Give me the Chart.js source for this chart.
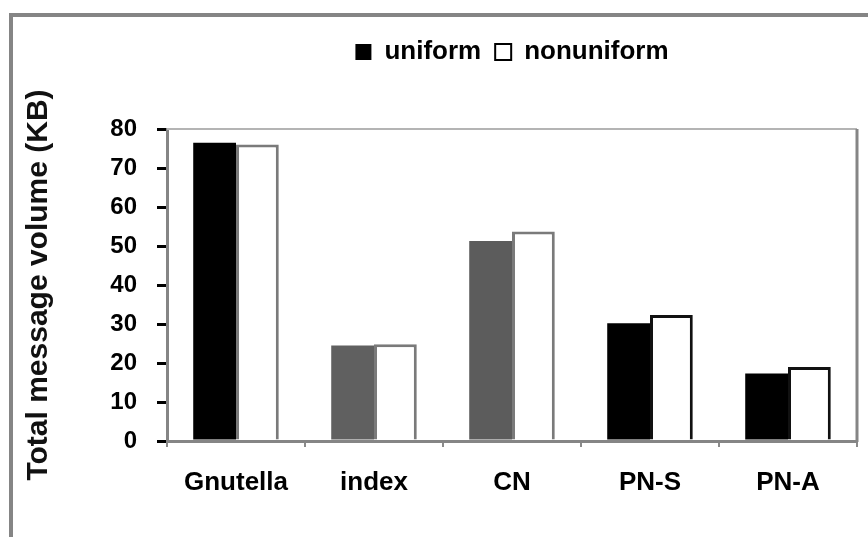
<!DOCTYPE html>
<html>
<head>
<meta charset="utf-8">
<script src="https://cdn.jsdelivr.net/npm/chart.js@4"></script>
<style>
  html, body { margin: 0; padding: 0; background: #fff; overflow: hidden; }
  #wrap { position: relative; width: 868px; height: 537px; }
</style>
</head>
<body>
<div id="wrap">
  <canvas id="c"></canvas>
</div>
<script>
// Total message volume per search scheme (KB)
const categories = ['Gnutella', 'index', 'CN', 'PN-S', 'PN-A'];
const uniform    = [76.5, 24.5, 51.3, 30.2, 17.3];
const nonuniform = [76.0, 24.8, 53.7, 32.3, 19.0];
const yMin = 0, yMax = 80, yStep = 10;

const FONT = "'Liberation Sans', Arial, sans-serif";
const LEGEND_TOP = 25;

// grey outer frame plus the thin top/right border of the plot area
const frames = {
  id: 'frames',
  afterLayout(chart) {
    // keep the legend near the top edge instead of hugging the plot
    const lg = chart.legend;
    if (lg) {
      const h = lg.height;
      lg.top = LEGEND_TOP;
      lg.bottom = LEGEND_TOP + h;
    }
  },
  afterDraw(chart) {
    const { ctx, width, height } = chart;
    ctx.save();
    ctx.strokeStyle = '#858585';
    ctx.lineWidth = 4;
    ctx.beginPath();
    ctx.moveTo(11, height + 5);
    ctx.lineTo(11, 15);
    ctx.lineTo(width + 5, 15);
    ctx.stroke();
    ctx.restore();
  },
  beforeDatasetsDraw(chart) {
    const { ctx, chartArea: a } = chart;
    ctx.save();
    ctx.strokeStyle = '#b4b4b4';
    ctx.lineWidth = 2;
    ctx.beginPath();
    ctx.moveTo(a.left, a.top);
    ctx.lineTo(a.right, a.top);
    ctx.stroke();
    ctx.strokeStyle = '#858585';
    ctx.lineWidth = 3;
    ctx.beginPath();
    ctx.moveTo(a.right, a.top);
    ctx.lineTo(a.right, a.bottom + 1);
    ctx.stroke();
    ctx.restore();
  }
};

new Chart(document.getElementById('c'), {
  type: 'bar',
  data: {
    labels: categories,
    datasets: [
      {
        label: 'uniform',
        data: uniform,
        backgroundColor: ['#000000', '#606060', '#5c5c5c', '#000000', '#000000'],
        borderWidth: 0,
        categoryPercentage: 0.62,
        barPercentage: 1.0
      },
      {
        label: 'nonuniform',
        data: nonuniform,
        backgroundColor: '#ffffff',
        borderColor: ['#7a7a7a', '#7a7a7a', '#7a7a7a', '#111111', '#111111'],
        borderWidth: 3,
        categoryPercentage: 0.62,
        barPercentage: 1.0
      }
    ]
  },
  options: {
    responsive: true,
    maintainAspectRatio: false,
    animation: false,
    layout: { padding: { left: 14, right: 11, top: LEGEND_TOP, bottom: 0 } },
    plugins: {
      tooltip: { enabled: false },
      legend: {
        position: 'top',
        fullSize: false,
        labels: {
          color: '#000',
          font: { family: FONT, size: 26, weight: 'bold' },
          boxWidth: 16,
          boxHeight: 16,
          padding: 14,
          generateLabels(chart) {
            return chart.data.datasets.map((ds, i) => ({
              text: ds.label,
              fillStyle: i === 0 ? '#000' : '#fff',
              strokeStyle: '#000',
              lineWidth: i === 0 ? 0 : 2,
              fontColor: '#000',
              hidden: false,
              datasetIndex: i
            }));
          }
        }
      }
    },
    scales: {
      x: {
        grid: { offset: true, drawOnChartArea: false, drawTicks: true, tickLength: 6, color: '#8a8a8a', lineWidth: 2 },
        border: { color: '#858585', width: 3 },
        ticks: { color: '#000', padding: 20, font: { family: FONT, size: 26, weight: 'bold' } },
        afterFit(scale) { scale.height = 96; }
      },
      y: {
        min: yMin,
        max: yMax,
        grid: { drawOnChartArea: false, drawTicks: true, tickLength: 10, color: '#000', lineWidth: 3 },
        border: { color: '#858585', width: 3 },
        ticks: { stepSize: yStep, color: '#000', padding: 20, font: { family: FONT, size: 24, weight: 'bold' } },
        title: {
          display: true,
          text: 'Total message volume (KB)',
          color: '#111',
          padding: { top: 7, bottom: 0 },
          font: { family: FONT, size: 30, weight: 'bold' }
        },
        afterFit(scale) { scale.width = 153; scale.paddingTop = 129; }
      }
    }
  },
  plugins: [frames]
});
</script>
</body>
</html>
